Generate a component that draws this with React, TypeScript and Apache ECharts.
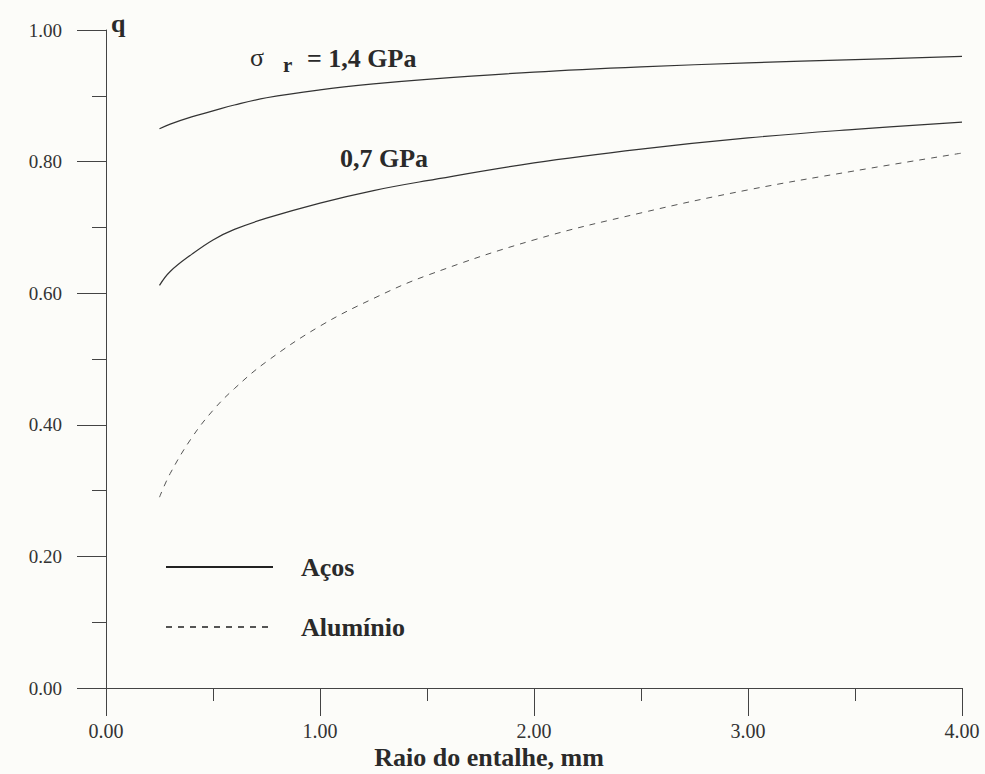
import React, { useEffect, useRef } from "react";
import * as echarts from "echarts";

// notch radius r (mm)
const rVals = [0.25, 0.3, 0.4, 0.5, 0.6, 0.75, 1.0, 1.25, 1.5, 2.0, 2.5, 3.0, 3.5, 4.0];
// notch sensitivity q
const qSteel14 = [0.850, 0.857, 0.868, 0.877, 0.886, 0.897, 0.909, 0.918, 0.925, 0.936, 0.944, 0.950, 0.955, 0.960];
const qSteel07 = [0.612, 0.633, 0.659, 0.681, 0.697, 0.714, 0.737, 0.756, 0.771, 0.798, 0.819, 0.836, 0.849, 0.860];
const qAlum = [0.290, 0.326, 0.380, 0.422, 0.455, 0.496, 0.550, 0.592, 0.627, 0.681, 0.722, 0.757, 0.786, 0.813];

const legendNames = ["Aços", "Alumínio"];
const xTitle = "Raio do entalhe, mm";
const yTitle = "q";
const annSigma = "σ";
const annSub = "r";
const annHigh = "= 1,4 GPa";
const annLow = "0,7 GPa";

const FONT = "'Liberation Serif', 'Times New Roman', serif";
const INK = "#2a2a2a";

const pairs = (ys: number[]) => rVals.map((r, i) => [r, ys[i]]);

export default function App() {
  const ref = useRef<HTMLDivElement>(null);
  useEffect(() => {
    if (!ref.current) return;
    const chart = echarts.init(ref.current, null, { renderer: "svg" });
    const lineBase = { type: "line", symbol: "none", smooth: 0.4, silent: true };
    chart.setOption({
      animation: false,
      backgroundColor: "#fcfcf9",
      grid: { left: 106, right: 23, top: 30, bottom: 86, containLabel: false, outerBoundsMode: "none" },
      legend: {
        orient: "vertical",
        left: 165,
        top: 554,
        padding: 0,
        itemWidth: 107,
        itemHeight: 2,
        itemGap: 34,
        selectedMode: false,
        itemStyle: { opacity: 0 },
        data: [
          { name: legendNames[0], lineStyle: { width: 2, color: "#222" } },
          { name: legendNames[1] },
        ],
        textStyle: {
          fontFamily: FONT,
          fontWeight: "bold",
          fontSize: 26,
          lineHeight: 26,
          color: INK,
          padding: [0, 0, 0, 23],
        },
      },
      xAxis: {
        type: "value",
        min: 0,
        max: 4,
        interval: 1,
        name: xTitle,
        nameLocation: "middle",
        nameGap: 69,
        nameMoveOverlap: false,
        nameTextStyle: {
          fontFamily: FONT,
          fontWeight: "bold",
          fontSize: 26,
          lineHeight: 26,
          color: INK,
          verticalAlign: "middle",
          padding: [0, 90, 0, 0],
        },
        axisLine: { show: true, onZero: false, lineStyle: { color: "#444", width: 1 } },
        axisTick: { show: true, length: 28, lineStyle: { color: "#444" } },
        minorTick: { show: true, splitNumber: 2, length: 13, lineStyle: { color: "#444" } },
        splitLine: { show: false },
        axisLabel: {
          margin: 33,
          fontFamily: FONT,
          fontSize: 20,
          color: "#333",
          formatter: (v: number) => v.toFixed(2),
        },
      },
      yAxis: {
        type: "value",
        min: 0,
        max: 1,
        interval: 0.2,
        name: yTitle,
        nameLocation: "end",
        nameGap: 7,
        nameTextStyle: {
          fontFamily: FONT,
          fontWeight: "bold",
          fontSize: 26,
          color: INK,
          align: "left",
          verticalAlign: "middle",
          padding: [0, 0, 0, 5],
        },
        axisLine: { show: true, onZero: false, lineStyle: { color: "#444", width: 1 } },
        axisTick: { show: true, length: 29, lineStyle: { color: "#444" } },
        minorTick: { show: true, splitNumber: 2, length: 14, lineStyle: { color: "#444" } },
        splitLine: { show: false },
        axisLabel: {
          margin: 44,
          fontFamily: FONT,
          fontSize: 19,
          color: "#333",
          formatter: (v: number) => v.toFixed(2),
        },
      },
      series: [
        {
          ...lineBase,
          name: legendNames[0],
          color: "#333",
          data: pairs(qSteel14),
          lineStyle: { color: "#333", width: 1.2 },
        },
        {
          ...lineBase,
          name: legendNames[0],
          color: "#333",
          data: pairs(qSteel07),
          lineStyle: { color: "#333", width: 1.2 },
        },
        {
          ...lineBase,
          name: legendNames[1],
          color: "#555",
          data: pairs(qAlum),
          lineStyle: { color: "#555", width: 1, type: [6, 6] },
        },
      ],
      graphic: [
        {
          type: "text",
          left: 250,
          top: 44,
          style: { text: annSigma, font: `26px ${FONT}`, fill: INK },
        },
        {
          type: "text",
          left: 283,
          top: 54,
          style: { text: annSub, font: `bold 21px ${FONT}`, fill: INK },
        },
        {
          type: "text",
          left: 307,
          top: 45,
          style: { text: annHigh, font: `bold 26px ${FONT}`, fill: INK },
        },
        {
          type: "text",
          left: 340,
          top: 145,
          style: { text: annLow, font: `bold 26px ${FONT}`, fill: INK },
        },
      ],
    });
    return () => chart.dispose();
  }, []);
  return (
    <div
      ref={ref}
      style={{ position: "fixed", left: 0, top: 0, width: 985, height: 774 }}
    />
  );
}
